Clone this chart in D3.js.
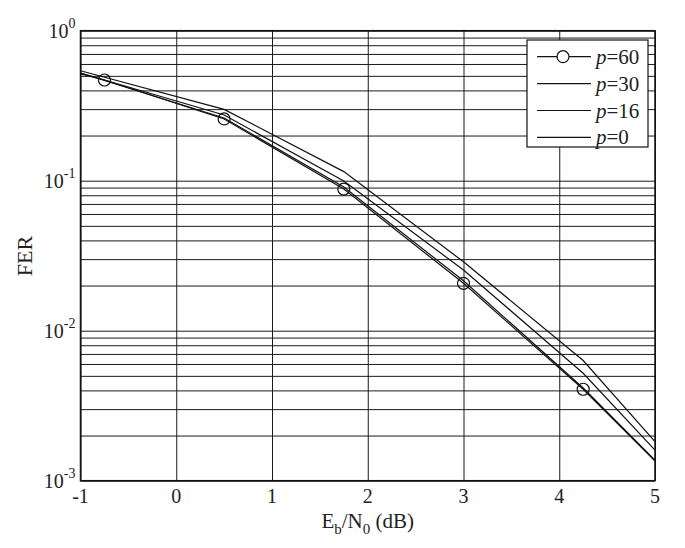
<!DOCTYPE html>
<html>
<head>
<meta charset="utf-8">
<script src="https://cdn.jsdelivr.net/npm/d3@7"></script>
<style>
  body { margin: 0; background: #fff; }
  svg text { font-family: "Liberation Serif", "DejaVu Serif", serif; fill: #222; }
</style>
</head>
<body>
<div id="chart"></div>
<script>
// Eb/N0 (dB) sample points
const ebno = [-1, 0.5, 1.75, 3, 4.25, 5];
const ebno60 = [-1, -0.75, 0.5, 1.75, 3, 4.25, 5];
const markerX = [-0.75, 0.5, 1.75, 3, 4.25];

// FER values
const fer60 = [0.515, 0.469, 0.258, 0.088, 0.0207, 0.00407, 0.00135];
const fer30 = [0.522, 0.262, 0.0908, 0.0215, 0.00415, 0.00137];
const fer16 = [0.522, 0.274, 0.0995, 0.0254, 0.0052, 0.0016];
const fer0 = [0.541, 0.299, 0.115, 0.0288, 0.00633, 0.00182];

const xTicks = [-1, 0, 1, 2, 3, 4, 5];
const yDecades = [-3, -2, -1, 0];
const legendLabels = ['60', '30', '16', '0'];

const width = 685, height = 548;
const margin = { top: 30.7, right: 30, bottom: 67.3, left: 80.5 };
const innerW = width - margin.left - margin.right;
const innerH = height - margin.top - margin.bottom;

const svg = d3.select('#chart').append('svg')
    .attr('width', width)
    .attr('height', height);

const viz = svg.append('g')
    .attr('transform', `translate(${margin.left}, ${margin.top})`);

const xScale = d3.scaleLinear().domain([-1, 5]).range([0, innerW]);
const yScale = d3.scaleLog().domain([1e-3, 1]).range([innerH, 0]);

// grid lines
const minorTicks = [];
yDecades.slice(0, 3).forEach(k => {
    for (let m = 1; m <= 9; m++) minorTicks.push(m * Math.pow(10, k));
});
minorTicks.push(1);

viz.append('g')
    .attr('class', 'grid')
    .call(d3.axisLeft(yScale).tickValues(minorTicks).tickSize(-innerW).tickFormat(''))
    .call(g => g.select('.domain').remove())
    .selectAll('line').attr('stroke', '#1a1a1a').attr('stroke-width', 1);

viz.append('g')
    .attr('class', 'grid')
    .attr('transform', `translate(0, ${innerH})`)
    .call(d3.axisBottom(xScale).tickValues(xTicks).tickSize(-innerH).tickFormat(''))
    .call(g => g.select('.domain').remove())
    .selectAll('line').attr('stroke', '#1a1a1a').attr('stroke-width', 1);

// frame
viz.append('rect')
    .attr('width', innerW)
    .attr('height', innerH)
    .attr('fill', 'none')
    .attr('stroke', '#111')
    .attr('stroke-width', 1.5);

// curves
const line = d3.line()
    .x(d => xScale(d[0]))
    .y(d => yScale(d[1]));

const series = [
    { xs: ebno60, ys: fer60 },
    { xs: ebno, ys: fer30 },
    { xs: ebno, ys: fer16 },
    { xs: ebno, ys: fer0 }
];

series.forEach(s => {
    viz.append('path')
        .datum(s.xs.map((x, i) => [x, s.ys[i]]))
        .attr('d', line)
        .attr('fill', 'none')
        .attr('stroke', '#111')
        .attr('stroke-width', 1.2);
});

viz.selectAll('circle.marker')
    .data(ebno60.map((x, i) => [x, fer60[i]]).filter(d => markerX.includes(d[0])))
    .join('circle')
    .attr('class', 'marker')
    .attr('cx', d => xScale(d[0]))
    .attr('cy', d => yScale(d[1]))
    .attr('r', 6)
    .attr('fill', 'none')
    .attr('stroke', '#111')
    .attr('stroke-width', 1.2);

// tick labels
const xLabels = viz.append('g');
xLabels.selectAll('text')
    .data(xTicks)
    .join('text')
    .attr('x', d => xScale(d))
    .attr('y', innerH + 22)
    .attr('text-anchor', 'middle')
    .attr('font-size', 20)
    .text(d => d);

const yLabels = viz.append('g');
yDecades.forEach(k => {
    const t = yLabels.append('text')
        .attr('x', -5)
        .attr('y', yScale(Math.pow(10, k)) + 7)
        .attr('text-anchor', 'end')
        .attr('font-size', 20);
    t.append('tspan').text('10');
    t.append('tspan')
        .attr('dy', -10)
        .attr('font-size', 14)
        .text(k);
});

// axis titles
const xTitle = svg.append('text')
    .attr('x', margin.left + innerW / 2)
    .attr('y', 528)
    .attr('text-anchor', 'middle')
    .attr('font-size', 21);
xTitle.append('tspan').text('E');
xTitle.append('tspan').attr('dy', 6).attr('font-size', 15).text('b');
xTitle.append('tspan').attr('dy', -6).text('/N');
xTitle.append('tspan').attr('dy', 6).attr('font-size', 15).text('0');
xTitle.append('tspan').attr('dy', -6).text(' (dB)');

svg.append('text')
    .attr('transform', `translate(32, 256) rotate(-90)`)
    .attr('text-anchor', 'middle')
    .attr('font-size', 22)
    .text('FER');

// legend
const legend = svg.append('g')
    .attr('transform', 'translate(527, 40)');

legend.append('rect')
    .attr('width', 121)
    .attr('height', 107)
    .attr('fill', '#fff')
    .attr('stroke', '#111')
    .attr('stroke-width', 1.2);

const rows = legend.selectAll('g.row')
    .data(legendLabels)
    .join('g')
    .attr('class', 'row')
    .attr('transform', (d, i) => `translate(0, ${16.7 + i * 26.9})`);

rows.append('line')
    .attr('x1', 10)
    .attr('x2', 64)
    .attr('stroke', '#111')
    .attr('stroke-width', 1.2);

rows.filter((d, i) => i === 0)
    .append('circle')
    .attr('cx', 36)
    .attr('r', 6)
    .attr('fill', '#fff')
    .attr('stroke', '#111')
    .attr('stroke-width', 1.2);

const rowText = rows.append('text')
    .attr('x', 69)
    .attr('y', 7)
    .attr('font-size', 21);
rowText.append('tspan').attr('font-style', 'italic').text('p');
rowText.append('tspan').text(d => '=' + d);
</script>
</body>
</html>
